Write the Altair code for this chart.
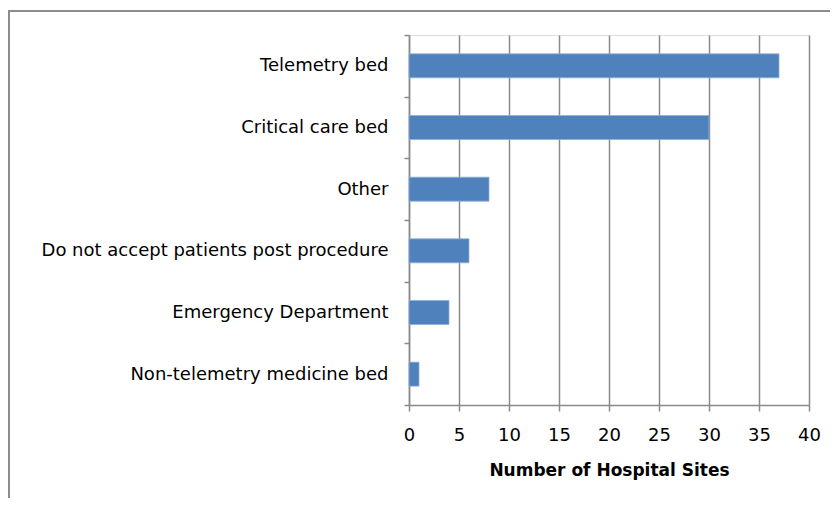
import altair as alt
import pandas as pd

categories = [
    "Telemetry bed",
    "Critical care bed",
    "Other",
    "Do not accept patients post procedure",
    "Emergency Department",
    "Non-telemetry medicine bed",
]
values = [37, 30, 8, 6, 4, 1]
x_ticks = [0, 5, 10, 15, 20, 25, 30, 35, 40]

df = pd.DataFrame({"category": categories, "sites": values})

FONT = "DejaVu Sans"
GRID = "#8a8a8a"

bars = alt.Chart(df).mark_bar(
    size=24, color="#4F81BD", stroke="#8fb0da", strokeWidth=0.8
).encode(
    x=alt.X(
        "sites:Q",
        scale=alt.Scale(domain=[0, 40], nice=False, zero=True),
        axis=alt.Axis(
            values=x_ticks,
            title="Number of Hospital Sites",
            titleFont=FONT,
            titleFontSize=17,
            titleFontWeight="bold",
            titleColor="#000000",
            titlePadding=18,
            labelFont=FONT,
            labelFontSize=18,
            labelColor="#000000",
            labelPadding=15,
            labelFlush=False,
            tickSize=6,
            tickColor=GRID,
            tickWidth=1.5,
            domainColor=GRID,
            domainWidth=1.5,
            grid=True,
            gridColor=GRID,
            gridWidth=1.5,
        ),
    ),
    y=alt.Y(
        "category:N",
        sort=categories,
        scale=alt.Scale(paddingInner=0, paddingOuter=0),
        axis=alt.Axis(
            title=None,
            labelFont=FONT,
            labelFontSize=18,
            labelColor="#000000",
            labelPadding=16,
            labelLimit=500,
            tickBand="extent",
            tickSize=5,
            tickColor=GRID,
            tickWidth=1.5,
            domainColor=GRID,
            domainWidth=1.5,
            grid=False,
        ),
    ),
)

frame = alt.Chart(pd.DataFrame({"a": [0]})).mark_rect(
    fill="transparent", stroke="#8c8c8c", strokeWidth=2
).encode(
    x=alt.value(-400),
    x2=alt.value(600),
    y=alt.value(-24),
    y2=alt.value(600),
)

chart = alt.layer(frame, bars).properties(
    width=400,
    height=370,
    autosize=alt.AutoSizeParams(type="none"),
    padding={"left": 401, "top": 27, "right": 21, "bottom": 93},
).configure_view(stroke=None).configure(background="white")

chart.save("out.html", embed_options={"renderer": "svg", "actions": False})
